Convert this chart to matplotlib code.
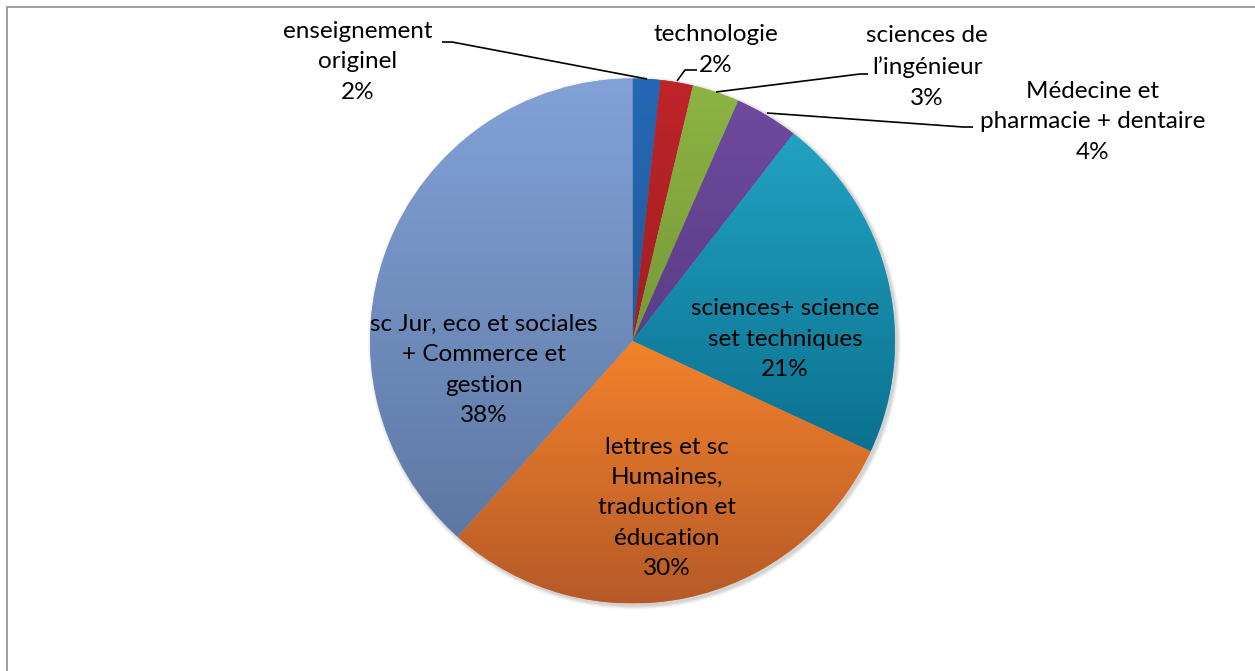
import numpy as np
import matplotlib
matplotlib.use("Agg")
import matplotlib.pyplot as plt
from matplotlib.colors import LinearSegmentedColormap
from matplotlib.patches import Rectangle, Circle

# ---------------- data ----------------
categories = [
    "enseignement\noriginel",
    "technologie",
    "sciences de\nl\u2019ing\u00e9nieur",
    "M\u00e9decine et\npharmacie + dentaire",
    "sciences+ science\nset techniques",
    "lettres et sc\nHumaines,\ntraduction et\n\u00e9ducation",
    "sc Jur, eco et sociales\n+ Commerce et\ngestion",
]
values = [1.7, 2.0, 2.9, 3.9, 21.4, 29.7, 38.4]
pct_labels = ["2%", "2%", "3%", "4%", "21%", "30%", "38%"]

top_colors = ["#2469B5", "#BF2429", "#8CB443", "#6E4A9F", "#22A2C2", "#F3822B", "#82A2D7"]
bottom_colors = ["#225A98", "#A11F23", "#76993A", "#5B3D86", "#0B7190", "#B65A28", "#5E78A4"]

W, H = 1255, 671
fig = plt.figure(figsize=(W / 100, H / 100), dpi=100)
ax = fig.add_axes([0, 0, 1, 1])

def Y(py):
    return H - py

plt.rcParams["font.family"] = ["Lato", "DejaVu Sans"]
FS = 17.5

cx, cy, R = 632.5, Y(341), 262.5

# soft shadow
for k, a in enumerate([0.06, 0.05, 0.04, 0.03]):
    ax.add_patch(Circle((cx + 2, cy - 2), R + 1 + k, facecolor="#000000",
                        alpha=a, edgecolor="none", zorder=1))

wedges, _ = ax.pie(values, startangle=90, counterclock=False, center=(cx, cy),
                   radius=R, colors=top_colors,
                   wedgeprops=dict(linewidth=0, zorder=2), frame=True)

for w, ct, cb in zip(wedges, top_colors, bottom_colors):
    t = np.linspace(np.radians(w.theta1), np.radians(w.theta2), 200)
    ys = np.concatenate([[cy], cy + R * np.sin(t)])
    y0, y1 = ys.min(), ys.max()
    cmap = LinearSegmentedColormap.from_list("g", [cb, ct])
    grad = np.linspace(0, 1, 256).reshape(-1, 1)
    im = ax.imshow(grad, cmap=cmap, origin="lower", aspect="auto",
                   extent=(cx - R, cx + R, y0, y1), zorder=3, interpolation="bilinear")
    im.set_clip_path(w)

ax.set_xlim(0, W)
ax.set_ylim(0, H)
ax.set_aspect("equal")
ax.axis("off")

# border
ax.add_patch(Rectangle((6.5, Y(700)), 1300, 700 - 6.5, facecolor="none",
                       edgecolor="#A0A0A0", linewidth=1.4, zorder=0))

# labels
label_pos = [(358, 62), (716, 50), (927, 67), (1093, 122), (785, 339), (667, 508), (484, 370)]
for cat, pct, (lx, ly) in zip(categories, pct_labels, label_pos):
    ax.text(lx, Y(ly), cat + "\n" + pct, ha="center", va="center", fontsize=FS,
            color="#000000", linespacing=1.55, zorder=5)

# leader lines
leaders = [
    [(442, 42), (452, 42), (647, 79)],
    [(677, 81), (685, 70), (697, 70)],
    [(716, 92), (860, 74), (868, 74)],
    [(767, 113), (963, 127), (973, 127)],
]
for pts in leaders:
    xs = [p[0] for p in pts]
    ys = [Y(p[1]) for p in pts]
    ax.plot(xs, ys, color="#000000", linewidth=1.2, zorder=4, solid_capstyle="butt")

fig.savefig("out.png", dpi=100)
